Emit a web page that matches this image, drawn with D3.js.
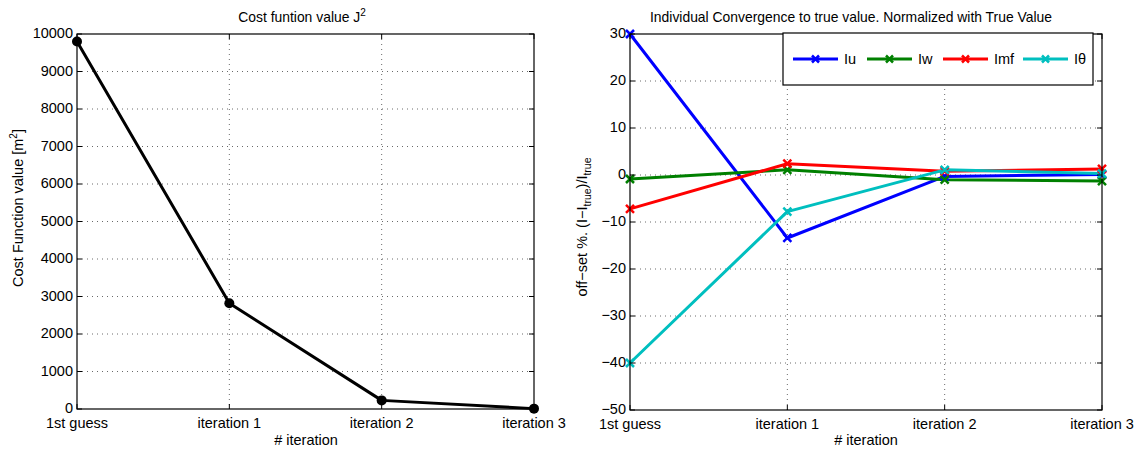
<!DOCTYPE html>
<html>
<head>
<meta charset="utf-8">
<script src="https://cdn.jsdelivr.net/npm/d3@7"></script>
<style>
  html, body { margin: 0; padding: 0; background: #fff; }
  svg { display: block; font-family: "Liberation Sans", Arial, sans-serif; }
</style>
</head>
<body>
<svg id="chart" width="1137" height="451"></svg>
<script>
// Iteration labels shared by both panels
const iterations = ["1st guess", "iteration 1", "iteration 2", "iteration 3"];

// Left panel: cost function value per iteration
const costValues = [9800, 2820, 230, 10];
const costTicks = [0, 1000, 2000, 3000, 4000, 5000, 6000, 7000, 8000, 9000, 10000];

// Right panel: offset (%) of each parameter from its true value
const seriesNames = ["Iu", "Iw", "Imf", "I\u03b8"];
const iuValues  = [30, -13.4, -0.3, 0.1];
const iwValues  = [-0.85, 1.1, -1.0, -1.3];
const imfValues = [-7.2, 2.4, 0.8, 1.3];
const ithValues = [-40, -7.8, 1.1, 0.3];
const seriesColors = ["#0000ff", "#008000", "#ff0000", "#00bfbf"];
const offsetTicks = [-50, -40, -30, -20, -10, 0, 10, 20, 30];

const svg = d3.select("#chart");
const FS = 14.5;   // tick and axis label size
const TS = 13.9;   // title size

function grid(g, x, y, xTicks, yTicks) {
  const [x0, x1] = x.range();
  const [y0, y1] = y.range(); // y0 bottom, y1 top
  g.selectAll(".vg").data(xTicks.filter((d, i) => i > 0 && i < xTicks.length - 1))
    .join("line").attr("x1", d => x(d)).attr("x2", d => x(d))
    .attr("y1", y1).attr("y2", y0)
    .attr("stroke", "#444").attr("stroke-width", 0.8).attr("stroke-dasharray", "1,4");
  g.selectAll(".hg").data(yTicks.filter((d, i) => i > 0 && i < yTicks.length - 1))
    .join("line").attr("x1", x0).attr("x2", x1)
    .attr("y1", d => y(d)).attr("y2", d => y(d))
    .attr("stroke", "#444").attr("stroke-width", 0.8).attr("stroke-dasharray", "1,4");
}

function frameAndTicks(g, x, y, xTicks, yTicks, yFmt) {
  const [x0, x1] = x.range();
  const [y0, y1] = y.range();
  const tl = 5;
  // inward ticks on all four sides
  xTicks.forEach(d => {
    g.append("line").attr("x1", x(d)).attr("x2", x(d)).attr("y1", y0).attr("y2", y0 - tl).attr("stroke", "#000");
    g.append("line").attr("x1", x(d)).attr("x2", x(d)).attr("y1", y1).attr("y2", y1 + tl).attr("stroke", "#000");
  });
  yTicks.forEach(d => {
    g.append("line").attr("x1", x0).attr("x2", x0 + tl).attr("y1", y(d)).attr("y2", y(d)).attr("stroke", "#000");
    g.append("line").attr("x1", x1).attr("x2", x1 - tl).attr("y1", y(d)).attr("y2", y(d)).attr("stroke", "#000");
  });
  g.append("rect").attr("x", x0).attr("y", y1).attr("width", x1 - x0).attr("height", y0 - y1)
    .attr("fill", "none").attr("stroke", "#000").attr("stroke-width", 1.2);
  g.selectAll(".xl").data(xTicks).join("text")
    .attr("x", d => x(d)).attr("y", y0 + 19).attr("text-anchor", "middle")
    .attr("font-size", FS).text(d => d);
  g.selectAll(".yl").data(yTicks).join("text")
    .attr("x", x0 - 4).attr("y", d => y(d)).attr("dy", "0.3em").attr("text-anchor", "end")
    .attr("font-size", FS).text(d => yFmt(d));
}

/* ---------------- Left panel ---------------- */
const xL = d3.scalePoint().domain(iterations).range([77, 534]);
const yL = d3.scaleLinear().domain([0, 10000]).range([409, 34]);
const gL = svg.append("g");
grid(gL, xL, yL, iterations, costTicks);

const costLine = d3.line().x((d, i) => xL(iterations[i])).y(d => yL(d));
gL.append("path").datum(costValues).attr("d", costLine)
  .attr("fill", "none").attr("stroke", "#000").attr("stroke-width", 3).attr("stroke-linejoin", "round");
gL.selectAll(".pt").data(costValues).join("circle")
  .attr("cx", (d, i) => xL(iterations[i])).attr("cy", d => yL(d)).attr("r", 5).attr("fill", "#000");

frameAndTicks(gL, xL, yL, iterations, costTicks, d => d);

gL.append("text").attr("x", 302).attr("y", 22).attr("text-anchor", "middle").attr("font-size", TS)
  .text("Cost funtion value J")
  .append("tspan").attr("dy", -6).attr("font-size", 10).text("2");
gL.append("text").attr("x", 306).attr("y", 445).attr("text-anchor", "middle").attr("font-size", FS)
  .text("# iteration");
const ylabL = gL.append("text").attr("transform", "translate(23,208) rotate(-90)")
  .attr("text-anchor", "middle").attr("font-size", FS);
ylabL.append("tspan").text("Cost Function value [m");
ylabL.append("tspan").attr("dy", -6).attr("font-size", 10).text("2");
ylabL.append("tspan").attr("dy", 6).text("]");

/* ---------------- Right panel ---------------- */
const xR = d3.scalePoint().domain(iterations).range([630, 1102]);
const yR = d3.scaleLinear().domain([-50, 30]).range([410, 34]);
const gR = svg.append("g");
grid(gR, xR, yR, iterations, offsetTicks);

const series = [iuValues, iwValues, imfValues, ithValues];
const offLine = d3.line().x((d, i) => xR(iterations[i])).y(d => yR(d));
const xMark = s => `M${-s},${-s}L${s},${s}M${-s},${s}L${s},${-s}`;

series.forEach((vals, k) => {
  gR.append("path").datum(vals).attr("d", offLine)
    .attr("fill", "none").attr("stroke", seriesColors[k]).attr("stroke-width", 3).attr("stroke-linejoin", "round");
});
series.forEach((vals, k) => {
  gR.selectAll(".m" + k).data(vals).join("path")
    .attr("transform", (d, i) => `translate(${xR(iterations[i])},${yR(d)})`)
    .attr("d", xMark(4)).attr("stroke", seriesColors[k]).attr("stroke-width", 2.5).attr("fill", "none");
});

frameAndTicks(gR, xR, yR, iterations, offsetTicks, d => d < 0 ? "\u2212" + Math.abs(d) : d);

gR.append("text").attr("x", 851).attr("y", 22).attr("text-anchor", "middle").attr("font-size", TS)
  .text("Individual Convergence to true value. Normalized with True Value");
gR.append("text").attr("x", 866).attr("y", 445).attr("text-anchor", "middle").attr("font-size", FS)
  .text("# iteration");
const ylabR = gR.append("text").attr("transform", "translate(587,227) rotate(-90)")
  .attr("text-anchor", "middle").attr("font-size", FS);
ylabR.append("tspan").text("off\u2212set %.  (I\u2212I");
ylabR.append("tspan").attr("dy", 4).attr("font-size", 10.5).text("true");
ylabR.append("tspan").attr("dy", -4).text(")/I");
ylabR.append("tspan").attr("dy", 4).attr("font-size", 10.5).text("true");

// Legend
const lg = gR.append("g");
lg.append("rect").attr("x", 783).attr("y", 33).attr("width", 310).attr("height", 52)
  .attr("fill", "#fff").attr("stroke", "#000").attr("stroke-width", 1.2);
const legX = [793, 867, 943, 1023];
seriesNames.forEach((name, k) => {
  const lx = legX[k], ly = 59;
  lg.append("line").attr("x1", lx).attr("x2", lx + 45).attr("y1", ly).attr("y2", ly)
    .attr("stroke", seriesColors[k]).attr("stroke-width", 3);
  lg.append("path").attr("transform", `translate(${lx + 22.5},${ly})`).attr("d", xMark(3.5))
    .attr("stroke", seriesColors[k]).attr("stroke-width", 2.5);
  lg.append("text").attr("x", lx + 51).attr("y", ly).attr("dy", "0.36em").attr("font-size", FS).text(name);
});
</script>
</body>
</html>
